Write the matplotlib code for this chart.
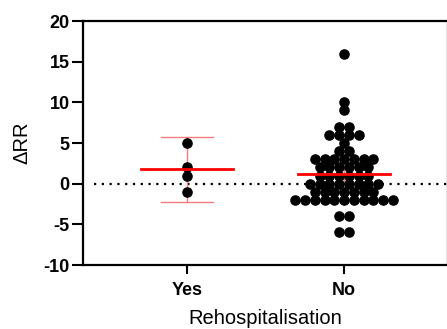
import numpy as np
import matplotlib
matplotlib.use('Agg')
import matplotlib.pyplot as plt

plt.rcParams['font.family'] = ['Liberation Sans', 'DejaVu Sans']
plt.rcParams['axes.unicode_minus'] = False

groups = ['Yes', 'No']
yes_vals = [5, 2, 1, -1]
no_vals = [16, 10, 9, 7, 7, 6, 6, 6, 6, 5, 4, 4,
           3, 3, 3, 3, 3, 3, 3,
           2, 2, 2, 2, 2, 2,
           1, 1, 1, 1, 1, 1,
           0, 0, 0, 0, 0, 0, 0, 0,
           -1, -1, -1, -1, -1, -1, -1,
           -2, -2, -2, -2, -2, -2, -2, -2, -2, -2, -2,
           -4, -4, -6, -6]
# two-sided 95% t critical values for n-1 degrees of freedom
t_crit = {3: 3.182, 60: 2.000}


def swarm_x(vals, center, step=0.062):
    """spread equal values side by side around the group centre"""
    vals = np.asarray(vals)
    out = np.zeros(len(vals))
    for v in np.unique(vals):
        idx = np.where(vals == v)[0]
        n = len(idx)
        out[idx] = center + (np.arange(n) - (n - 1) / 2) * step
    return out


fig = plt.figure(figsize=(4.47, 3.29), dpi=100)
ax = fig.add_axes([83 / 447, 64 / 329, 365 / 447, 244 / 329])

ax.axhline(0, xmin=0.03, color='black', linestyle=(0, (1, 2.5)), lw=1.6, zorder=1)

for i, vals in enumerate([yes_vals, no_vals]):
    vals = np.asarray(vals, dtype=float)
    n = len(vals)
    m = vals.mean()
    ci = t_crit[n - 1] * vals.std(ddof=1) / np.sqrt(n)
    ax.plot([i, i], [m - ci, m + ci], color='#f47c7c', lw=1, zorder=2)
    for y in (m - ci, m + ci):
        ax.plot([i - 0.165, i + 0.165], [y, y], color='#f47c7c', lw=1, zorder=2)
    xs = swarm_x(vals, i)
    ax.plot(xs, vals, 'o', color='black', ms=6.6, mec='black', zorder=3)
    ax.plot([i - 0.29, i + 0.29], [m, m], color='#ff0000', lw=2, zorder=4)

ax.set_xlim(-0.662, 1.662)
ax.set_ylim(-10, 20)
ax.set_yticks(np.arange(-10, 21, 5))
ax.set_xticks([0, 1])
ax.set_xticklabels(groups)
for lab in ax.get_xticklabels() + ax.get_yticklabels():
    lab.set_fontweight('bold')
    lab.set_fontsize(13)
ax.tick_params(axis='y', width=1.5, length=8, pad=1.5)
ax.tick_params(axis='x', width=1.5, length=6.5, pad=6)
for s in ax.spines.values():
    s.set_linewidth(1.6)
ax.set_ylabel('ΔRR', fontsize=14.5, labelpad=9)
ax.set_xlabel('Rehospitalisation', fontsize=14.5)
ax.xaxis.set_label_coords(0.5, -0.18)

fig.savefig('out.png', dpi=100)
